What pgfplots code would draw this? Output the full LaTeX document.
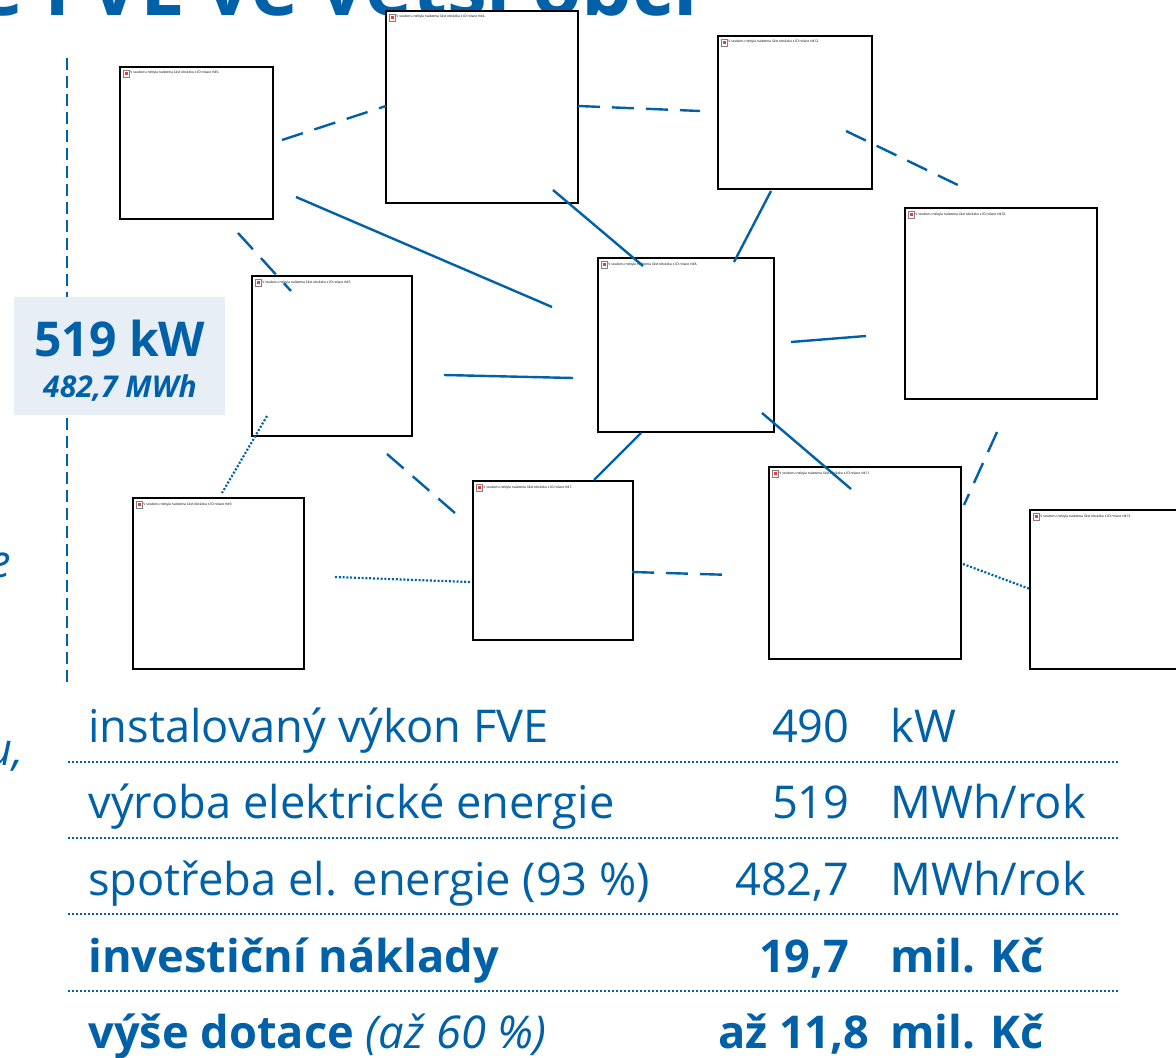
\documentclass[border=0pt]{standalone}
\usepackage{pgfplots}
\pgfplotsset{compat=1.18}
\usepackage{fontspec}
\setmainfont{Open Sans}
\definecolor{fveblue}{RGB}{0,96,168}
\definecolor{boxbg}{RGB}{232,238,246}

% placeholder picture box: x1 y1 x2 y2 rId
\newcommand\phbox[5]{%
  \addplot[draw=black, line width=0.7pt, fill=white] coordinates {(#1,#2) (#3,#2) (#3,#4) (#1,#4)} -- cycle;
  \node[anchor=north west, inner sep=0, draw=gray, line width=0.25pt, fill=white,
        minimum width=3pt, minimum height=3.5pt] at (axis cs:#1+3,#2+3) {};
  \node[anchor=north west, inner sep=0, fill=red!80, minimum width=1.4pt, minimum height=1.4pt]
        at (axis cs:#1+4.5,#2+5) {};
  \node[anchor=north west, inner sep=0, font=\fontsize{1.7}{2}\selectfont]
        at (axis cs:#1+10,#2+4) {V souboru nebyla nalezena část obrázku s ID relace #5.};
}
\tikzset{
  tab/.style={text=fveblue, inner sep=0, font=\fontsize{22.6}{26}\selectfont},
  tabb/.style={tab, font=\fontsize{22.6}{26}\selectfont\bfseries},
}

\begin{document}
\begin{tikzpicture}
\path[use as bounding box] (0,0) rectangle (588pt,529pt);
\clip (0,0) rectangle (588pt,529pt);
\begin{axis}[
    width=588pt, height=529pt, scale only axis,
    xmin=0, xmax=1176, ymin=0, ymax=1058,
    y dir=reverse, hide axis, clip=false,
]
% title (cut off at the top)
\node[anchor=base west, inner sep=0, text=fveblue, font=\fontsize{40}{44}\selectfont\bfseries]
  at (axis cs:-24,16) {e FVE ve větší obci};

% left column fragments
\node[anchor=base east, inner sep=0, text=fveblue, font=\fontsize{22.6}{26}\selectfont\itshape]
  at (axis cs:11,577) {e};
\node[anchor=base east, inner sep=0, text=fveblue, font=\fontsize{22.6}{26}\selectfont\itshape]
  at (axis cs:24,765) {u,};

% vertical dashed divider
\addplot[fveblue, line width=0.6pt, dash pattern=on 6pt off 3pt] coordinates {(67,58) (67,685)};

% highlight box
\addplot[draw=none, fill=boxbg] coordinates {(14,297) (225,297) (225,415) (14,415)} -- cycle;
\node[anchor=base, inner sep=0, text=fveblue, font=\fontsize{24}{28}\selectfont\bfseries]
  at (axis cs:120,357) {519 kW};
\node[anchor=base, inner sep=0, text=fveblue, font=\fontsize{15}{18}\selectfont\bfseries\itshape]
  at (axis cs:120,398) {482,7 MWh};

% placeholder boxes
\phbox{120}{67}{273}{219}{rId6}
\phbox{386}{11}{578}{203}{rId4}
\phbox{718}{36}{872}{189}{rId12}
\phbox{905}{208}{1097}{399}{rId10}
\phbox{252}{276}{412}{436}{rId5}
\phbox{598}{258}{774}{432}{rId8}
\phbox{133}{498}{304}{669}{rId9}
\phbox{473}{481}{633}{640}{rId7}
\phbox{769}{467}{961}{659}{rId11}
\phbox{1030}{510}{1200}{669}{rId13}

% connecting lines
\pgfplotsset{
  link/.style={fveblue, line width=1.2pt},
  dlink/.style={link, dash pattern=on 11pt off 6pt},
  olink/.style={fveblue, line width=1.1pt, dash pattern=on 1pt off 0.9pt},
}
\addplot[dlink] coordinates {(282,140) (386,106)};
\addplot[dlink] coordinates {(578,106) (700,111)};
\addplot[dlink] coordinates {(846,131) (962,187)};
\addplot[link]  coordinates {(296,197) (552,307)};
\addplot[dlink] coordinates {(238,233) (291,291)};
\addplot[link]  coordinates {(553,190) (643,266)};
\addplot[link]  coordinates {(771,191) (734,262)};
\addplot[link]  coordinates {(791,342) (866,336)};
\addplot[link]  coordinates {(444,375) (573,378)};
\addplot[dlink] coordinates {(997,432) (964,505)};
\addplot[olink] coordinates {(267,416) (222,493)};
\addplot[dlink] coordinates {(387,454) (463,520)};
\addplot[link]  coordinates {(641,433) (594,480)};
\addplot[link]  coordinates {(762,413) (851,489)};
\addplot[olink] coordinates {(335,577) (470,582)};
\addplot[dlink] coordinates {(632,572) (733,575)};
\addplot[olink] coordinates {(963,564) (1030,589)};

% table separators
\pgfplotsset{sep/.style={fveblue, line width=1pt, dash pattern=on 1pt off 1pt}}
\addplot[sep] coordinates {(68,762) (1120,762)};
\addplot[sep] coordinates {(68,838) (1120,838)};
\addplot[sep] coordinates {(68,914) (1120,914)};
\addplot[sep] coordinates {(68,991) (1120,991)};

% table text
\node[tab, anchor=base west] at (axis cs:88,742) {instalovaný výkon FVE};
\node[tab, anchor=base east] at (axis cs:850,742) {490};
\node[tab, anchor=base west] at (axis cs:890,742) {kW};
\node[tab, anchor=base west] at (axis cs:88,818) {výroba elektrické energie};
\node[tab, anchor=base east] at (axis cs:850,818) {519};
\node[tab, anchor=base west] at (axis cs:890,818) {MWh/rok};
\node[tab, anchor=base west] at (axis cs:88,895) {spotřeba el. energie (93 \%)};
\node[tab, anchor=base east] at (axis cs:850,895) {482,7};
\node[tab, anchor=base west] at (axis cs:890,895) {MWh/rok};
\node[tabb, anchor=base west] at (axis cs:88,972) {investiční náklady};
\node[tabb, anchor=base east] at (axis cs:850,972) {19,7};
\node[tabb, anchor=base west] at (axis cs:890,972) {mil. Kč};
\node[tabb, anchor=base west] at (axis cs:88,1048) {výše dotace \mdseries\itshape(až 60 \%)};
\node[tabb, anchor=base east] at (axis cs:870,1048) {až 11,8};
\node[tabb, anchor=base west] at (axis cs:890,1048) {mil. Kč};
\end{axis}
\end{tikzpicture}
\end{document}
